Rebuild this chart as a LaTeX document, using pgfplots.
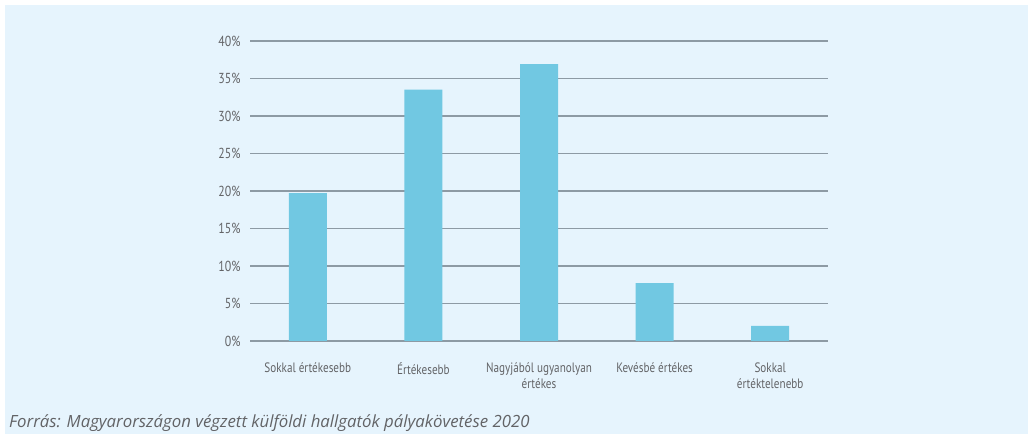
\documentclass[border=0pt]{standalone}
\usepackage{pgfplots}
\pgfplotsset{compat=1.18}
\usepackage{fontspec}
\setmainfont[FakeStretch=0.82]{PT Sans}
\newfontfamily\capfont{Open Sans}
\definecolor{bgc}{HTML}{E6F4FD}
\definecolor{barc}{HTML}{71C8E2}
\definecolor{gridc}{HTML}{8D9AA4}
\definecolor{txtc}{HTML}{626366}
\begin{document}
\begin{tikzpicture}[x=1pt,y=1pt]
\fill[white] (0,0) rectangle (1028,434);
\fill[bgc] (5,0) rectangle (1028,429);
\node[anchor=base west, font=\capfont\itshape\fontsize{16.8}{18}\selectfont, text=txtc, inner sep=0] at (9,7) {Forrás: Magyarországon végzett külföldi hallgatók pályakövetése 2020};
\begin{axis}[
  at={(250pt,93pt)}, anchor=south west,
  scale only axis, width=578pt, height=300pt,
  xmin=-0.5, xmax=4.5, ymin=0, ymax=40,
  axis line style={draw=none},
  ytick={0,5,...,40},
  yticklabel={\pgfmathprintnumber{\tick}\%},
  /pgf/number format/assume math mode=true,
  ymajorgrids, grid style={gridc, line width=1.3pt},
  major tick length=0pt,
  xtick={0,1,2,3,4},
  xticklabels={Sokkal értékesebb, Értékesebb, {Nagyjából ugyanolyan\\értékes}, Kevésbé értékes, {Sokkal\\értéktelenebb}},
  xticklabel style={align=center, font=\fontsize{13.6}{16}\selectfont, text=txtc, anchor=north, yshift=-18pt},
  yticklabel style={font=\fontsize{14.5}{16}\selectfont, text=txtc, xshift=-6pt},
  ybar, bar width=38pt,
]
\addplot[fill=barc, draw=none] coordinates {(0,19.7) (1,33.5) (2,36.9) (3,7.7) (4,2.0)};
\end{axis}
\end{tikzpicture}
\end{document}
